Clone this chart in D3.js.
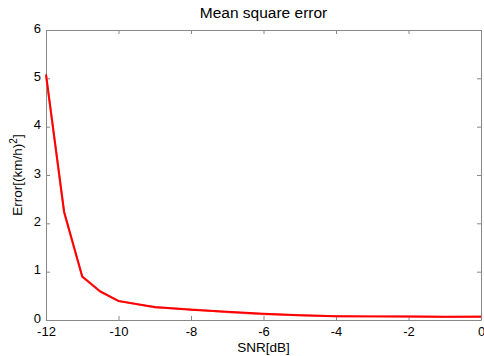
<!DOCTYPE html>
<html><head><meta charset="utf-8">
<script src="https://cdn.jsdelivr.net/npm/d3@7/dist/d3.min.js"></script>
<style>body{margin:0;background:#fff}svg{display:block}text{font-family:"Liberation Sans",Arial,sans-serif}</style>
</head><body><svg id="c" width="484" height="356"></svg>
<script>
const snr = [-12,-11.5,-11,-10.5,-10,-9,-8,-7,-6,-5,-4,-3,-2,-1,0];
const errA = [5.08,2.24,0.90,0.59,0.39,0.27,0.21,0.17,0.13,0.10,0.08,0.075,0.07,0.065,0.065];
const errB = [5.06,2.22,0.89,0.58,0.40,0.26,0.22,0.16,0.12,0.10,0.08,0.07,0.07,0.06,0.07];
const xTicks = [-12,-10,-8,-6,-4,-2,0];
const yTicks = [0,1,2,3,4,5,6];

const svg = d3.select("#c");
const L=46,R=481,T=30,B=320;
const x = d3.scaleLinear().domain([-12,0]).range([L,R]);
const y = d3.scaleLinear().domain([0,6]).range([B,T]);
const ax="#888";
const fmt = d=>d<0?"-"+Math.abs(d):String(d);

const xb = svg.append("g").attr("transform",`translate(0,${B})`)
  .call(d3.axisBottom(x).tickValues(xTicks).tickFormat(fmt).tickSizeInner(-4).tickSizeOuter(0).tickPadding(7));
const yl = svg.append("g").attr("transform",`translate(${L},0)`)
  .call(d3.axisLeft(y).tickValues(yTicks).tickFormat(fmt).tickSizeInner(-4).tickSizeOuter(0).tickPadding(5));
const xt = svg.append("g").attr("transform",`translate(0,${T})`)
  .call(d3.axisTop(x).tickValues(xTicks).tickSizeInner(-4).tickSizeOuter(0).tickFormat(""));
const yr = svg.append("g").attr("transform",`translate(${R},0)`)
  .call(d3.axisRight(y).tickValues(yTicks).tickSizeInner(-4).tickSizeOuter(0).tickFormat(""));
[xb,yl,xt,yr].forEach(g=>{
  g.selectAll("path,line").attr("stroke",ax);
  g.selectAll("text").attr("fill","#000").style("font-size","13px").style("font-family","'Liberation Sans',Arial,sans-serif");
});
yl.selectAll("text").attr("y",-2);

const line = d3.line().x((d,i)=>x(snr[i])).y(d=>y(d));
svg.append("path").datum(errB).attr("d",line).attr("fill","none").attr("stroke","#ff8080").attr("stroke-width",2);
svg.append("path").datum(errA).attr("d",line).attr("fill","none").attr("stroke","#ff0000").attr("stroke-width",2);

svg.append("text").attr("x",(L+R)/2).attr("y",18).attr("text-anchor","middle").style("font-size","15.5px").text("Mean square error");
svg.append("text").attr("x",(L+R)/2).attr("y",352).attr("text-anchor","middle").style("font-size","13.5px").text("SNR[dB]");
const yt = svg.append("text").attr("transform",`translate(22,${(T+B)/2}) rotate(-90)`).attr("text-anchor","middle").style("font-size","13.5px");
yt.append("tspan").text("Error[(km/h)");
yt.append("tspan").attr("dy",-5).style("font-size","10px").text("2");
yt.append("tspan").attr("dy",5).text("]");
</script></body></html>
